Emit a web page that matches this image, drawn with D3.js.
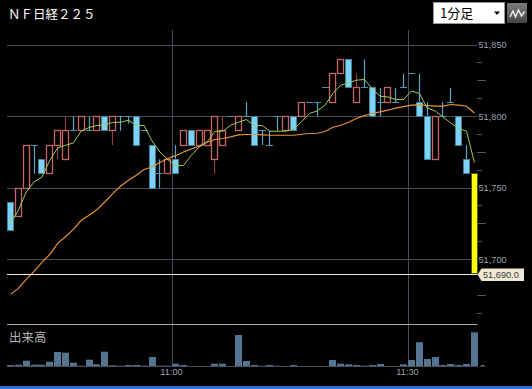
<!DOCTYPE html>
<html>
<head>
<meta charset="utf-8">
<script src="https://cdnjs.cloudflare.com/ajax/libs/d3/7.8.5/d3.min.js"></script>
<style>
html, body { margin: 0; padding: 0; background: #000; overflow: hidden; }
svg { display: block; }
text { font-family: "Liberation Sans", Arial, sans-serif; }
.cjk { font-family: "Noto Sans CJK JP", sans-serif; }
</style>
</head>
<body>
<div id="chart"></div>
<script>
'use strict';

var opens = [51740,51730,51750,51780,51770,51760,51780,51770,51790,51790,51790,51790,51800,51790,51800,51800,51800,51790,51780,51760,
  51760,51770,51780,51790,51780,51780,51770,51780,51800,51790,51800,51800,51790,51780,51800,51790,51800,51800,51810,51810,
  51820,51810,51830,51840,51810,51820,51820,51810,51810,51810,51820,51830,51810,51800,51770,51800,51810,51800,51770,51760];
var highs = [51740,51750,51780,51780,51770,51780,51790,51800,51800,51800,51800,51800,51800,51800,51800,51800,51800,51790,51780,51770,
  51770,51780,51790,51790,51790,51790,51800,51800,51800,51800,51810,51800,51790,51790,51800,51800,51800,51810,51810,51810,
  51820,51830,51840,51840,51830,51840,51820,51820,51820,51820,51830,51830,51830,51810,51800,51810,51820,51800,51780,51760];
var lows = [51720,51730,51750,51760,51760,51760,51770,51770,51790,51790,51790,51790,51790,51780,51790,51795,51780,51790,51750,51750,
  51760,51760,51780,51780,51780,51780,51760,51780,51800,51790,51800,51780,51780,51780,51790,51790,51790,51800,51810,51800,
  51820,51810,51830,51820,51810,51820,51800,51800,51810,51810,51820,51830,51800,51770,51770,51800,51810,51780,51760,51690];
var closes = [51720,51750,51780,51780,51760,51780,51790,51790,51790,51800,51790,51800,51790,51800,51800,51800,51780,51790,51750,51760,
  51770,51760,51790,51780,51790,51790,51800,51790,51800,51800,51800,51780,51790,51780,51800,51800,51790,51810,51810,51810,
  51820,51830,51840,51820,51820,51820,51800,51810,51820,51810,51820,51830,51800,51770,51800,51800,51810,51780,51760,51690];

var maShort = [51725.5,51734.4,51747.2,51754.2,51757.7,51769.4,51778,51779.9,51781.5,51789.9,51792.3,51793.7,51794.1,51795.8,51796,51797.4,51793.7,51793.7,51782.9,51775.2,
  51769.9,51765.9,51765.7,51772.9,51778.7,51782.2,51789.7,51789.7,51793.9,51796,51797.9,51793.7,51793.7,51789.7,51789.7,51789.7,51791.1,51796.2,51802.1,51803.9,
  51807.9,51816.1,51821.9,51823.5,51825.4,51825.9,51819.6,51814.2,51813.7,51811.9,51811.9,51817.9,51816.1,51806,51803.9,51799.7,51795.5,51791.6,51789.7,51767.8];
var maLong = [51675.6,51679.8,51686.1,51691.7,51698,51703.6,51711.3,51715.9,51721.1,51727.4,51730.9,51734.9,51740.2,51746.1,51751.2,51755.4,51758.9,51762.9,51764.7,51767.8,
  51770.6,51772.6,51775.2,51777.3,51779.4,51782,51783.9,51784.6,51785.7,51787.1,51787.4,51787.4,51787.1,51786.9,51786.9,51786.9,51786.9,51787.6,51788.1,51788.3,
  51789.5,51792.5,51793.9,51796,51798.6,51800.6,51802.1,51803.2,51804.4,51805.8,51806.9,51807.9,51808.1,51807.7,51807.2,51807.2,51808.4,51807.9,51807.2,51802.5];
var volumes = [1,1.3,5.3,1.3,1.3,4.3,14,13.3,3.3,0.3,6.3,1.7,14.3,0.7,0.3,1,1,0.3,9,0.3,
  0.3,2.3,1,0,0,0,2.3,2.3,0,31,5,1,0.2,1,0.2,0,1,0,0,0,
  0,6,2.3,1.7,1,0.3,1,2,0,0,1.7,6,23.7,7,9,1,2,1,2,33.7];

var priceLabels = [51850, 51800, 51750, 51700];
var priceMinor = [51837.5, 51812.5, 51787.5, 51762.5, 51737.5, 51712.5, 51662.5];
var priceMid = [51825, 51775, 51725, 51675];
var timeIndex = [20.6, 50.6];
var timeLabels = ['11:00', '11:30'];
var lastPrice = 51690;

var width = 532, height = 389;
var plotLeft = 7, plotRight = 477.5, plotTop = 30, sep = 324.5, base = 366;

var svg = d3.select('#chart').append('svg').attr('width', width).attr('height', height);

var x = d3.scaleLinear().domain([0, 59]).range([10.5, 474.4]),
    y = d3.scaleLinear().domain([51700, 51850]).range([259.5, 45]),
    v = d3.scaleLinear().domain([0, 34]).range([base, base - 34]);

var gridColor = '#4b4b5b', blue = '#7ed2f4', blueEdge = '#3f7f9c', red = '#c96464';

// snap to the middle of a pixel so 1px strokes stay crisp
function snap(n) { return Math.floor(n) + 0.5; }

// frame and grid
svg.append('rect').attr('x', 0).attr('y', 386).attr('width', width).attr('height', 3).attr('fill', '#2f6fd0');

svg.selectAll('.hgrid').data(priceLabels).enter().append('line')
  .attr('x1', plotLeft).attr('x2', plotRight)
  .attr('y1', function (d) { return snap(y(d)); })
  .attr('y2', function (d) { return snap(y(d)); })
  .attr('stroke', gridColor);

svg.selectAll('.vgrid').data(timeIndex).enter().append('line')
  .attr('x1', function (d) { return snap(x(d)); })
  .attr('x2', function (d) { return snap(x(d)); })
  .attr('y1', plotTop).attr('y2', base)
  .attr('stroke', gridColor);

svg.append('line').attr('x1', plotLeft).attr('x2', plotRight).attr('y1', sep).attr('y2', sep)
  .attr('stroke', '#a8a8a8');
svg.append('line').attr('x1', plotLeft).attr('x2', plotRight).attr('y1', base + 0.5).attr('y2', base + 0.5)
  .attr('stroke', gridColor);

// price axis
var axis = d3.axisRight(y).tickValues(priceLabels).tickSize(0).tickPadding(1).tickFormat(d3.format(','));
var axisG = svg.append('g').attr('transform', 'translate(' + plotRight + ',0)').call(axis);
axisG.select('.domain').remove();
axisG.selectAll('text').attr('fill', '#98a2ae').style('font-size', '9.2px')
  .style('font-family', '"Liberation Sans", Arial, sans-serif');

svg.selectAll('.minor').data(priceMinor).enter().append('line')
  .attr('x1', 477).attr('x2', 482)
  .attr('y1', function (d) { return snap(y(d)); })
  .attr('y2', function (d) { return snap(y(d)); })
  .attr('stroke', '#55555f');
svg.selectAll('.mid').data(priceMid).enter().append('line')
  .attr('x1', 477).attr('x2', 486)
  .attr('y1', function (d) { return snap(y(d)); })
  .attr('y2', function (d) { return snap(y(d)); })
  .attr('stroke', '#55555f');

// candles
var idx = d3.range(opens.length);
var isUp = function (i) { return closes[i] > opens[i]; };
var isLast = function (i) { return i === opens.length - 1; };
var isFlat = function (i) { return closes[i] === opens[i]; };

svg.selectAll('.wick').data(idx).enter().append('line')
  .attr('x1', function (i) { return snap(x(i)); })
  .attr('x2', function (i) { return snap(x(i)); })
  .attr('y1', function (i) { return y(highs[i]); })
  .attr('y2', function (i) { return y(lows[i]); })
  .attr('stroke', function (i) { return isUp(i) ? '#8a3e3e' : '#5aa6c6'; })
  .attr('stroke-width', 1.2);

svg.selectAll('.body').data(idx.filter(function (i) { return !isFlat(i); })).enter().append('rect')
  .attr('x', function (i) { return Math.floor(x(i)) - 2.5; })
  .attr('width', 6)
  .attr('y', function (i) { return snap(y(Math.max(opens[i], closes[i]))); })
  .attr('height', function (i) { return snap(y(Math.min(opens[i], closes[i]))) - snap(y(Math.max(opens[i], closes[i]))); })
  .attr('fill', function (i) { return isLast(i) ? '#ffff00' : (isUp(i) ? '#000' : blue); })
  .attr('stroke', function (i) { return isLast(i) ? '#55551a' : (isUp(i) ? red : blueEdge); })
  .attr('stroke-width', function (i) { return isUp(i) ? 1.3 : 1; });

// open equals close: a plain dash
svg.selectAll('.dash').data(idx.filter(isFlat)).enter().append('line')
  .attr('x1', function (i) { return Math.floor(x(i)) - 3; })
  .attr('x2', function (i) { return Math.floor(x(i)) + 4; })
  .attr('y1', function (i) { return snap(y(opens[i])); })
  .attr('y2', function (i) { return snap(y(opens[i])); })
  .attr('stroke', '#4f93b2');

// moving averages
var line = d3.line().x(function (d, i) { return x(i); }).y(function (d) { return y(d); });

svg.append('path').attr('d', line(maLong)).attr('fill', 'none').attr('stroke', '#e8913a').attr('stroke-width', 1.2);
svg.append('path').attr('d', line(maShort)).attr('fill', 'none').attr('stroke', '#9ccc55').attr('stroke-width', 1);

// volume
svg.selectAll('.vol').data(idx).enter().append('rect')
  .attr('x', function (i) { return Math.floor(x(i)) - 3; })
  .attr('width', 7)
  .attr('y', function (i) { return v(volumes[i]); })
  .attr('height', function (i) { return base - v(volumes[i]); })
  .attr('fill', '#547592');

// last price line and tag
var ly = snap(y(lastPrice) + 0.5);
svg.append('line').attr('x1', plotLeft).attr('x2', plotRight).attr('y1', ly).attr('y2', ly).attr('stroke', '#f6ead6');
svg.append('path')
  .attr('d', d3.line()([[477.5, ly], [481.5, ly - 6], [524, ly - 6], [524, ly + 6.5], [481.5, ly + 6.5]]) + 'Z')
  .attr('fill', '#f1e8d4');
svg.append('text').attr('x', 483).attr('y', ly + 3.5).attr('fill', '#3a3a3a').style('font-size', '9.2px')
  .text(d3.format(',.1f')(lastPrice));

// time labels
svg.selectAll('.time').data(timeIndex).enter().append('text')
  .attr('x', function (d) { return Math.floor(x(d)) - 0.5; })
  .attr('y', 374.5)
  .attr('text-anchor', 'middle')
  .attr('fill', '#98a2ae')
  .style('font-size', '9.2px')
  .text(function (d, i) { return timeLabels[i]; });

// volume zero label, cut off by the plot edge
svg.append('clipPath').attr('id', 'zero').append('rect').attr('x', 478).attr('y', 355).attr('width', 20).attr('height', 12);
svg.append('text').attr('x', 480).attr('y', 371).attr('fill', '#98a2ae').style('font-size', '9.2px')
  .attr('clip-path', 'url(#zero)').text('0');

// titles
svg.append('text').attr('class', 'cjk').attr('x', 8).attr('y', 19).attr('fill', '#fff')
  .style('font-size', '12.5px').text('ＮＦ日経２２５');
svg.append('text').attr('class', 'cjk').attr('x', 9).attr('y', 342).attr('fill', '#b4b4b4')
  .style('font-size', '12.5px').text('出来高');

// period select box
svg.append('rect').attr('x', 433.5).attr('y', 2.5).attr('width', 71).attr('height', 21)
  .attr('fill', '#fff').attr('stroke', '#999');
svg.append('text').attr('class', 'cjk').attr('x', 440).attr('y', 18).attr('fill', '#000')
  .style('font-size', '13px').text('1分足');
svg.append('path').attr('d', 'M494,11.5L500,11.5L497,15Z').attr('fill', '#000');

// chart type button
var grad = svg.append('linearGradient').attr('id', 'btn').attr('x1', 0).attr('x2', 0).attr('y1', 0).attr('y2', 1);
grad.append('stop').attr('offset', 0).attr('stop-color', '#7c7c7c');
grad.append('stop').attr('offset', 1).attr('stop-color', '#444');
svg.append('rect').attr('x', 507).attr('y', 3).attr('width', 20).attr('height', 20).attr('fill', 'url(#btn)');
svg.append('path').attr('d', 'M510,17L513,11L515.5,17L518.5,10L521.5,16L524.5,11.5')
  .attr('fill', 'none').attr('stroke', '#eee').attr('stroke-width', 1.4);
</script>
</body>
</html>
